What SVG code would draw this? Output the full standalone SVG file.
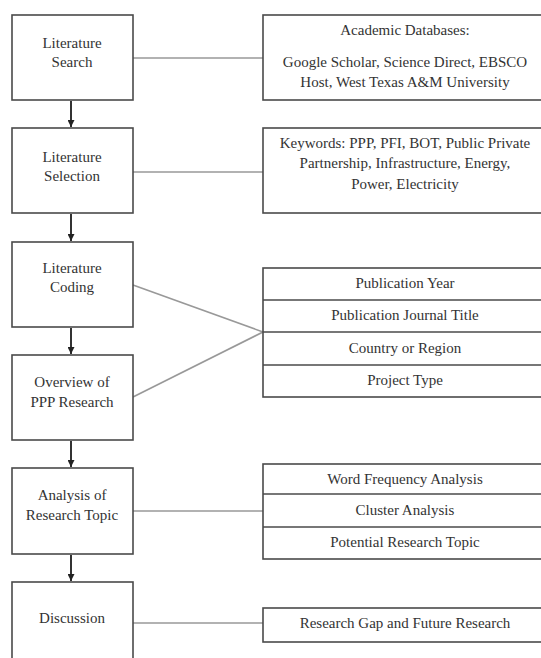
<svg xmlns="http://www.w3.org/2000/svg" width="541" height="658" viewBox="0 0 541 658">
<style>
.box{fill:#fff;stroke:#4a4a4a;stroke-width:1.6}
.t{font-family:"Liberation Serif","Times New Roman",serif;font-size:15px;fill:#333;text-anchor:middle}
.link{stroke:#999;stroke-width:1.6;fill:none}
.flow{stroke:#333;stroke-width:2;fill:none;marker-end:url(#ah)}
.row{stroke:#4a4a4a;stroke-width:1.6}
</style>
<defs>
<marker id="ah" markerWidth="7" markerHeight="7" refX="7" refY="3.5" orient="auto" markerUnits="userSpaceOnUse" viewBox="0 0 7 7">
<path d="M0,0 L7,3.5 L0,7 Z" fill="#222"/>
</marker>
</defs>
<rect width="541" height="658" fill="#fff"/>
<g id="connectors">
<line class="link" x1="133" y1="58" x2="263" y2="58"/>
<line class="link" x1="133" y1="172" x2="263" y2="172"/>
<line class="link" x1="133" y1="285" x2="263" y2="332"/>
<line class="link" x1="133" y1="397" x2="263" y2="332"/>
<line class="link" x1="133" y1="511" x2="263" y2="511"/>
<line class="link" x1="133" y1="623" x2="263" y2="623"/>
<line class="flow" x1="71" y1="101" x2="71" y2="127"/>
<line class="flow" x1="71" y1="214" x2="71" y2="241"/>
<line class="flow" x1="71" y1="328" x2="71" y2="354"/>
<line class="flow" x1="71" y1="441" x2="71" y2="467"/>
<line class="flow" x1="71" y1="555" x2="71" y2="581"/>
</g>
<g id="literature-search">
<rect class="box" x="12" y="15" width="121" height="85"/>
<text class="t" x="72" y="48">Literature</text>
<text class="t" x="72" y="67">Search</text>
</g>
<g id="literature-selection">
<rect class="box" x="12" y="128" width="121" height="85"/>
<text class="t" x="72" y="162">Literature</text>
<text class="t" x="72" y="181">Selection</text>
</g>
<g id="literature-coding">
<rect class="box" x="12" y="242" width="121" height="85"/>
<text class="t" x="72" y="273">Literature</text>
<text class="t" x="72" y="292">Coding</text>
</g>
<g id="overview">
<rect class="box" x="12" y="355" width="121" height="85"/>
<text class="t" x="72" y="387">Overview of</text>
<text class="t" x="72" y="407">PPP Research</text>
</g>
<g id="analysis">
<rect class="box" x="12" y="468" width="121" height="86"/>
<text class="t" x="72" y="500">Analysis of</text>
<text class="t" x="72" y="520">Research Topic</text>
</g>
<g id="discussion">
<rect class="box" x="12" y="582" width="121" height="90"/>
<text class="t" x="72" y="623">Discussion</text>
</g>
<g id="databases">
<rect class="box" x="263" y="15" width="285" height="85"/>
<text class="t" x="405" y="35">Academic Databases:</text>
<text class="t" x="405" y="67">Google Scholar, Science Direct, EBSCO</text>
<text class="t" x="405" y="87">Host, West Texas A&amp;M University</text>
</g>
<g id="keywords">
<rect class="box" x="263" y="128" width="285" height="85"/>
<text class="t" x="405" y="148">Keywords: PPP, PFI, BOT, Public Private</text>
<text class="t" x="405" y="168">Partnership, Infrastructure, Energy,</text>
<text class="t" x="405" y="189">Power, Electricity</text>
</g>
<g id="coding-table">
<rect class="box" x="263" y="268" width="285" height="129"/>
<line class="row" x1="263" y1="300" x2="548" y2="300"/>
<line class="row" x1="263" y1="332" x2="548" y2="332"/>
<line class="row" x1="263" y1="365" x2="548" y2="365"/>
<text class="t" x="405" y="288">Publication Year</text>
<text class="t" x="405" y="320">Publication Journal Title</text>
<text class="t" x="405" y="353">Country or Region</text>
<text class="t" x="405" y="385">Project Type</text>
</g>
<g id="analysis-table">
<rect class="box" x="263" y="464" width="285" height="95"/>
<line class="row" x1="263" y1="494" x2="548" y2="494"/>
<line class="row" x1="263" y1="527" x2="548" y2="527"/>
<text class="t" x="405" y="484">Word Frequency Analysis</text>
<text class="t" x="405" y="515">Cluster Analysis</text>
<text class="t" x="405" y="547">Potential Research Topic</text>
</g>
<g id="gap">
<rect class="box" x="263" y="608" width="285" height="34"/>
<text class="t" x="405" y="628">Research Gap and Future Research</text>
</g>
</svg>
